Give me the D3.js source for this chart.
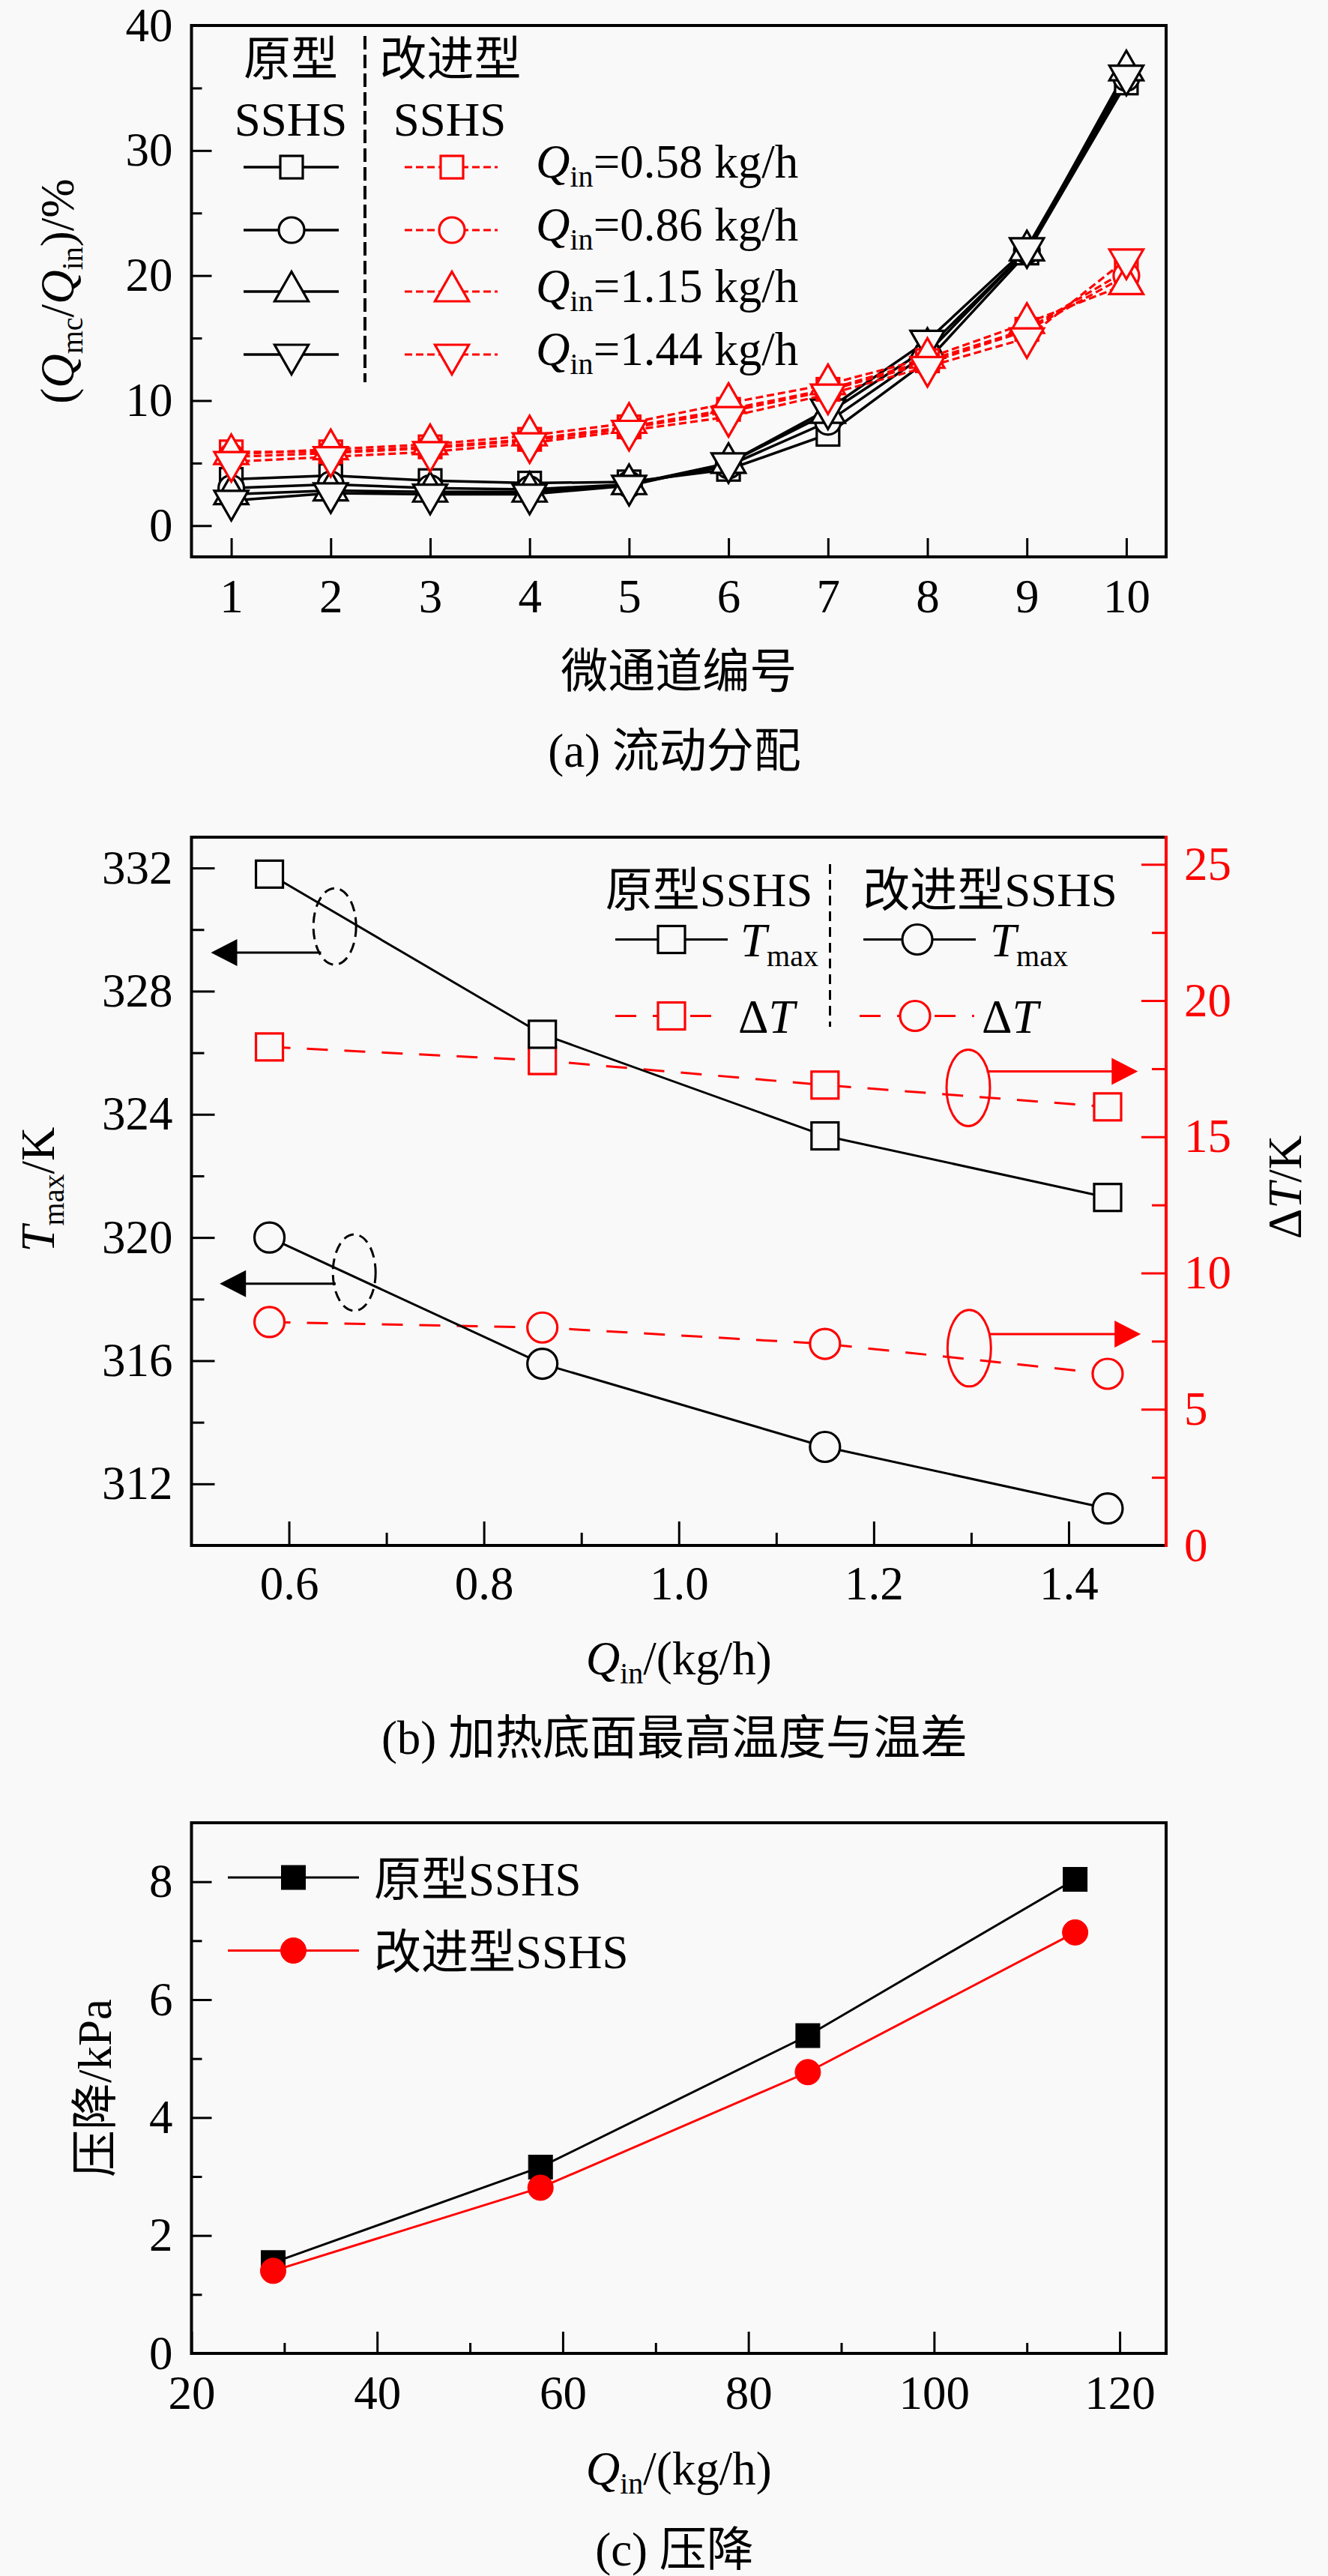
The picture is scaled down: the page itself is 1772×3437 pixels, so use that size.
<!DOCTYPE html>
<html><head><meta charset="utf-8">
<script src="https://cdn.jsdelivr.net/npm/d3@7/dist/d3.min.js"></script>
<style>
html,body{margin:0;padding:0;background:#f9f9f9;}
svg{display:block;}
</style></head>
<body>
<svg id="fig" width="1772" height="3437"></svg>
<script>
// ---------------- DATA ----------------
// (a) flow distribution, Q_mc/Q_in (%) per micro-channel
const channels = [1,2,3,4,5,6,7,8,9,10];
const qinLabels = ["0.58","0.86","1.15","1.44"];
const markerTypes = ["square","circle","up","down"];
const origQ058 = [3.7,4.0,3.6,3.4,3.5,4.5,7.3,13.2,21.8,35.4];
const origQ086 = [3.0,3.3,3.0,2.9,3.3,4.8,8.3,13.8,22.0,35.8];
const origQ115 = [2.5,2.8,2.7,2.7,3.3,5.0,9.0,14.2,22.0,36.4];
const origQ144 = [2.0,2.6,2.5,2.5,3.2,5.0,9.3,14.8,22.2,36.0];
const imprQ058 = [5.9,5.9,6.3,6.9,7.9,9.3,10.9,13.2,15.7,20.4];
const imprQ086 = [5.5,5.8,6.2,6.8,7.8,9.1,10.8,13.0,15.6,20.0];
const imprQ115 = [5.7,6.1,6.5,7.2,8.2,9.8,11.3,13.4,16.2,19.3];
const imprQ144 = [5.1,5.5,5.9,6.6,7.6,8.7,10.5,12.7,15.0,21.3];
const aYMajor = [0,10,20,30,40];
const aYMinor = [5,15,25,35];

// (b) max temperature and temperature difference
const qinB = [0.58,0.86,1.15,1.44];
const tmaxOrig = [331.8,326.6,323.3,321.3];
const tmaxImpr = [320.0,315.9,313.2,311.2];
const dTOrig = [18.3,17.8,16.9,16.1];
const dTImpr = [8.2,8.0,7.4,6.3];
const bXMajor = [0.6,0.8,1.0,1.2,1.4];
const bXMinor = [0.7,0.9,1.1,1.3];
const bYLMajor = [312,316,320,324,328,332];
const bYLMinor = [314,318,322,326,330];
const bYRMajor = [0,5,10,15,20,25];
const bYRMinor = [2.5,7.5,12.5,17.5,22.5];

// (c) pressure drop
const qinC = [28.8,57.6,86.4,115.2];
const dpOrig = [1.54,3.16,5.39,8.04];
const dpImpr = [1.40,2.81,4.77,7.14];
const cXMajor = [20,40,60,80,100,120];
const cXMinor = [30,50,70,90,110];
const cYMajor = [0,2,4,6,8];
const cYMinor = [1,3,5,7];

// ---------------- STYLE ----------------
const BG = "#f9f9f9";
const RED = "#ff0000";
const SERIF = "'Liberation Serif','Times New Roman','Noto Sans CJK SC',serif";
const FS = 63;
const L = 255.5, R = 1556;

const svg = d3.select("#fig");
svg.append("rect").attr("width",1772).attr("height",3437).attr("fill",BG);

function rich(sel, parts, subSize, subShift){
  subSize = subSize || 40; subShift = subShift || 13;
  let shift = 0;
  parts.forEach(p=>{
    const target = p.sub ? subShift : 0;
    const ts = sel.append("tspan").text(p.t);
    if (target !== shift){ ts.attr("dy", target - shift); shift = target; }
    if (p.it) ts.attr("font-style","italic");
    if (p.sub) ts.attr("font-size", subSize);
  });
  return sel;
}

function marker(g, type, x, y, o){
  const s = o.size, stroke = o.stroke, fill = o.fill, sw = o.sw || 3;
  let m;
  if (type === "square"){
    m = g.append("rect").attr("x", x - s/2).attr("y", y - s/2).attr("width", s).attr("height", s);
  } else if (type === "circle"){
    m = g.append("circle").attr("cx", x).attr("cy", y).attr("r", s/2);
  } else if (type === "up"){
    const w = s*0.78, h = s*0.68;
    m = g.append("path").attr("d", `M${x},${y-h*0.67}L${x+w/2},${y+h*0.33}L${x-w/2},${y+h*0.33}Z`);
  } else {
    const w = s*0.78, h = s*0.68;
    m = g.append("path").attr("d", `M${x},${y+h*0.67}L${x+w/2},${y-h*0.33}L${x-w/2},${y-h*0.33}Z`);
  }
  m.attr("fill", fill).attr("stroke", stroke).attr("stroke-width", sw).attr("stroke-linejoin","miter");
  return m;
}

function styleAxis(g, color, sw){
  g.select(".domain").remove();
  g.selectAll(".tick line").attr("stroke", color).attr("stroke-width", sw || 3);
  g.selectAll(".tick text").attr("fill", color).attr("font-family", SERIF).attr("font-size", FS);
  g.attr("font-family", SERIF).attr("font-size", FS);
}

function frame(top, bottom, rightColor){
  const g = svg.append("g");
  g.append("line").attr("x1",L).attr("x2",R).attr("y1",top).attr("y2",top).attr("stroke","#000").attr("stroke-width",4);
  g.append("line").attr("x1",L).attr("x2",R).attr("y1",bottom).attr("y2",bottom).attr("stroke","#000").attr("stroke-width",4);
  g.append("line").attr("x1",L).attr("x2",L).attr("y1",top-2).attr("y2",bottom+2).attr("stroke","#000").attr("stroke-width",4);
  g.append("line").attr("x1",R).attr("x2",R).attr("y1",top-2).attr("y2",bottom+2).attr("stroke",rightColor||"#000").attr("stroke-width",4);
}

// ================= PANEL (a) =================
const aTop = 34, aBot = 743;
const xa = d3.scaleLinear().domain([0.6,10.4]).range([L,R]);
const ya = d3.scaleLinear().domain([-2.5,40]).range([aBot,aTop]);

styleAxis(svg.append("g").attr("transform",`translate(0,${aBot})`)
  .call(d3.axisBottom(xa).tickValues(channels).tickSize(-25).tickPadding(29).tickFormat(d3.format("d"))), "#000");
styleAxis(svg.append("g").attr("transform",`translate(${L},0)`)
  .call(d3.axisLeft(ya).tickValues(aYMajor).tickSize(-27).tickPadding(25).tickFormat(d3.format("d"))), "#000");
styleAxis(svg.append("g").attr("transform",`translate(${L},0)`)
  .call(d3.axisLeft(ya).tickValues(aYMinor).tickSize(-14).tickFormat("")), "#000");

const origSeries = [origQ058, origQ086, origQ115, origQ144];
const imprSeries = [imprQ058, imprQ086, imprQ115, imprQ144];
const mSize = k => k===0 ? 30 : (k===1 ? 34 : 58);
const lineA = d3.line().x((d,i)=>xa(channels[i])).y(d=>ya(d));
const gA = svg.append("g");
origSeries.forEach((s,k)=>{
  gA.append("path").attr("d", lineA(s)).attr("fill","none").attr("stroke","#000").attr("stroke-width",3.5);
});
origSeries.forEach((s,k)=>{
  s.forEach((v,i)=> marker(gA, markerTypes[k], xa(channels[i]), ya(v), {size: mSize(k), stroke:"#000", fill:BG, sw:3.2}));
});
imprSeries.forEach((s,k)=>{
  gA.append("path").attr("d", lineA(s)).attr("fill","none").attr("stroke",RED).attr("stroke-width",3.2).attr("stroke-dasharray","10,5");
});
imprSeries.forEach((s,k)=>{
  s.forEach((v,i)=> marker(gA, markerTypes[k], xa(channels[i]), ya(v), {size: mSize(k), stroke:RED, fill:BG, sw:3.2}));
});
frame(aTop, aBot);

// legend (a)
const legA = svg.append("g").attr("font-family", SERIF).attr("font-size", FS);
legA.append("text").attr("x",388).attr("y",100).attr("text-anchor","middle").text("原型");
legA.append("text").attr("x",388).attr("y",181).attr("text-anchor","middle").text("SSHS");
legA.append("text").attr("x",601).attr("y",100).attr("text-anchor","middle").text("改进型");
legA.append("text").attr("x",600).attr("y",181).attr("text-anchor","middle").text("SSHS");
legA.append("line").attr("x1",487).attr("x2",487).attr("y1",48).attr("y2",510).attr("stroke","#000").attr("stroke-width",4).attr("stroke-dasharray","18,7");
const legRowsA = [223,307,389,473];
qinLabels.forEach((q,k)=>{
  const y = legRowsA[k];
  legA.append("line").attr("x1",325).attr("x2",452).attr("y1",y).attr("y2",y).attr("stroke","#000").attr("stroke-width",3.5);
  marker(legA, markerTypes[k], 389, y, {size: mSize(k), stroke:"#000", fill:BG, sw:3.2});
  legA.append("line").attr("x1",540).attr("x2",664).attr("y1",y).attr("y2",y).attr("stroke",RED).attr("stroke-width",3.2).attr("stroke-dasharray","10,5");
  marker(legA, markerTypes[k], 603, y, {size: mSize(k), stroke:RED, fill:BG, sw:3.2});
  rich(legA.append("text").attr("x",715).attr("y",y+14),
    [{t:"Q",it:true},{t:"in",sub:true},{t:"="+q+" kg/h"}], 40, 12);
});

// titles (a)
rich(svg.append("text").attr("transform",`translate(98,${(aTop+aBot)/2}) rotate(-90)`).attr("text-anchor","middle")
  .attr("font-family",SERIF).attr("font-size",FS),
  [{t:"("},{t:"Q",it:true},{t:"mc",sub:true},{t:"/"},{t:"Q",it:true},{t:"in",sub:true},{t:")/%"}], 40, 12);
svg.append("text").attr("x",(L+R)/2).attr("y",aBot+174).attr("text-anchor","middle").attr("font-family",SERIF).attr("font-size",FS).text("微通道编号");
svg.append("text").attr("x",900).attr("y",aBot+280).attr("text-anchor","middle").attr("font-family",SERIF).attr("font-size",FS).text("(a) 流动分配");

// ================= PANEL (b) =================
const bTop = 1117, bBot = 2062;
const xb = d3.scaleLinear().domain([0.5,1.5]).range([L,R]);
const ybL = d3.scaleLinear().domain([310,333]).range([bBot,bTop]);
const ybR = d3.scaleLinear().domain([0,26]).range([bBot,bTop]);

styleAxis(svg.append("g").attr("transform",`translate(0,${bBot})`)
  .call(d3.axisBottom(xb).tickValues(bXMajor).tickSize(-32).tickPadding(27).tickFormat(d3.format(".1f"))), "#000");
styleAxis(svg.append("g").attr("transform",`translate(0,${bBot})`)
  .call(d3.axisBottom(xb).tickValues(bXMinor).tickSize(-17).tickFormat("")), "#000");
styleAxis(svg.append("g").attr("transform",`translate(${L},0)`)
  .call(d3.axisLeft(ybL).tickValues(bYLMajor).tickSize(-31).tickPadding(25).tickFormat(d3.format("d"))), "#000");
styleAxis(svg.append("g").attr("transform",`translate(${L},0)`)
  .call(d3.axisLeft(ybL).tickValues(bYLMinor).tickSize(-17).tickFormat("")), "#000");
styleAxis(svg.append("g").attr("transform",`translate(${R},0)`)
  .call(d3.axisRight(ybR).tickValues(bYRMajor).tickSize(-33).tickPadding(24).tickFormat(d3.format("d"))), RED);
styleAxis(svg.append("g").attr("transform",`translate(${R},0)`)
  .call(d3.axisRight(ybR).tickValues(bYRMinor).tickSize(-19).tickFormat("")), RED);

const gB = svg.append("g");
const lineBL = d3.line().x((d,i)=>xb(qinB[i])).y(d=>ybL(d));
const lineBR = d3.line().x((d,i)=>xb(qinB[i])).y(d=>ybR(d));
gB.append("path").attr("d",lineBR(dTOrig)).attr("fill","none").attr("stroke",RED).attr("stroke-width",3).attr("stroke-dasharray","28,22");
gB.append("path").attr("d",lineBR(dTImpr)).attr("fill","none").attr("stroke",RED).attr("stroke-width",3).attr("stroke-dasharray","28,22");
gB.append("path").attr("d",lineBL(tmaxOrig)).attr("fill","none").attr("stroke","#000").attr("stroke-width",3);
gB.append("path").attr("d",lineBL(tmaxImpr)).attr("fill","none").attr("stroke","#000").attr("stroke-width",3);
dTOrig.forEach((v,i)=>marker(gB,"square",xb(qinB[i]),ybR(v),{size:36,stroke:RED,fill:BG,sw:3.2}));
dTImpr.forEach((v,i)=>marker(gB,"circle",xb(qinB[i]),ybR(v),{size:40,stroke:RED,fill:BG,sw:3.2}));
tmaxOrig.forEach((v,i)=>marker(gB,"square",xb(qinB[i]),ybL(v),{size:36,stroke:"#000",fill:BG,sw:3.2}));
tmaxImpr.forEach((v,i)=>marker(gB,"circle",xb(qinB[i]),ybL(v),{size:40,stroke:"#000",fill:BG,sw:3.2}));

// axis-pointer annotations (b)
function leftPointer(cx, cy, ay, tailX, tipX){
  gB.append("ellipse").attr("cx",xb(cx)).attr("cy",ybL(cy)).attr("rx",28.5).attr("ry",51)
    .attr("fill","none").attr("stroke","#000").attr("stroke-width",3).attr("stroke-dasharray","14,8");
  const y = ybL(ay), x0 = xb(tailX), x1 = xb(tipX);
  gB.append("line").attr("x1",x0).attr("x2",x1+30).attr("y1",y).attr("y2",y).attr("stroke","#000").attr("stroke-width",3);
  gB.append("path").attr("d",`M${x1},${y}L${x1+35},${y-18}L${x1+35},${y+18}Z`).attr("fill","#000");
}
function rightPointer(cx, cy, ay, tailX, tipX){
  gB.append("ellipse").attr("cx",xb(cx)).attr("cy",ybR(cy)).attr("rx",29).attr("ry",51)
    .attr("fill","none").attr("stroke",RED).attr("stroke-width",3);
  const y = ybR(ay), x0 = xb(tailX), x1 = xb(tipX);
  gB.append("line").attr("x1",x0).attr("x2",x1-30).attr("y1",y).attr("y2",y).attr("stroke",RED).attr("stroke-width",3);
  gB.append("path").attr("d",`M${x1},${y}L${x1-35},${y-18}L${x1-35},${y+18}Z`).attr("fill",RED);
}
leftPointer(0.647, 330.1, 329.25, 0.633, 0.52);
leftPointer(0.667, 318.86, 318.5, 0.648, 0.529);
rightPointer(1.297, 16.8, 17.4, 1.316, 1.471);
rightPointer(1.298, 7.24, 7.76, 1.318, 1.474);

frame(bTop, bBot, RED);

// legend (b)
const legB = svg.append("g").attr("font-family", SERIF).attr("font-size", FS);
legB.append("text").attr("x",946).attr("y",1209).attr("text-anchor","middle").text("原型SSHS");
legB.append("text").attr("x",1321).attr("y",1209).attr("text-anchor","middle").text("改进型SSHS");
legB.append("line").attr("x1",1107.5).attr("x2",1107.5).attr("y1",1153).attr("y2",1370).attr("stroke","#000").attr("stroke-width",3).attr("stroke-dasharray","13,8");
legB.append("line").attr("x1",821).attr("x2",971).attr("y1",1253.5).attr("y2",1253.5).attr("stroke","#000").attr("stroke-width",3);
marker(legB,"square",896,1253.5,{size:36,stroke:"#000",fill:BG,sw:3.2});
rich(legB.append("text").attr("x",988).attr("y",1276),[{t:"T",it:true},{t:"max",sub:true}],40,13);
legB.append("line").attr("x1",1152).attr("x2",1302).attr("y1",1253.5).attr("y2",1253.5).attr("stroke","#000").attr("stroke-width",3);
marker(legB,"circle",1224,1253.5,{size:40,stroke:"#000",fill:BG,sw:3.2});
rich(legB.append("text").attr("x",1321).attr("y",1276),[{t:"T",it:true},{t:"max",sub:true}],40,13);
legB.append("line").attr("x1",821).attr("x2",951).attr("y1",1355.5).attr("y2",1355.5).attr("stroke",RED).attr("stroke-width",3).attr("stroke-dasharray","28,22");
marker(legB,"square",896,1355.5,{size:36,stroke:RED,fill:BG,sw:3.2});
rich(legB.append("text").attr("x",985).attr("y",1378),[{t:"Δ"},{t:"T",it:true}]);
legB.append("line").attr("x1",1147).attr("x2",1300).attr("y1",1355.5).attr("y2",1355.5).attr("stroke",RED).attr("stroke-width",3).attr("stroke-dasharray","28,22");
marker(legB,"circle",1221,1355.5,{size:40,stroke:RED,fill:BG,sw:3.2});
rich(legB.append("text").attr("x",1310).attr("y",1378),[{t:"Δ"},{t:"T",it:true}]);

// titles (b)
rich(svg.append("text").attr("transform",`translate(72,1587) rotate(-90)`).attr("text-anchor","middle")
  .attr("font-family",SERIF).attr("font-size",FS),[{t:"T",it:true},{t:"max",sub:true},{t:"/K"}],40,13);
rich(svg.append("text").attr("transform",`translate(1736,1584) rotate(-90)`).attr("text-anchor","middle")
  .attr("font-family",SERIF).attr("font-size",FS).attr("fill","#000"),[{t:"Δ"},{t:"T",it:true},{t:"/K"}]);
rich(svg.append("text").attr("x",(L+R)/2).attr("y",bBot+172).attr("text-anchor","middle").attr("font-family",SERIF).attr("font-size",FS),
  [{t:"Q",it:true},{t:"in",sub:true},{t:"/(kg/h)"}],40,12);
svg.append("text").attr("x",900).attr("y",bBot+278).attr("text-anchor","middle").attr("font-family",SERIF).attr("font-size",FS).text("(b) 加热底面最高温度与温差");

// ================= PANEL (c) =================
const cTop = 2432, cBot = 3140;
const xc = d3.scaleLinear().domain([20,125]).range([L,R]);
const yc = d3.scaleLinear().domain([0,9]).range([cBot,cTop]);
styleAxis(svg.append("g").attr("transform",`translate(0,${cBot})`)
  .call(d3.axisBottom(xc).tickValues(cXMajor).tickSize(-29).tickPadding(29).tickFormat(d3.format("d"))), "#000");
styleAxis(svg.append("g").attr("transform",`translate(0,${cBot})`)
  .call(d3.axisBottom(xc).tickValues(cXMinor).tickSize(-14).tickFormat("")), "#000");
styleAxis(svg.append("g").attr("transform",`translate(${L},0)`)
  .call(d3.axisLeft(yc).tickValues(cYMajor).tickSize(-27).tickPadding(25).tickFormat(d3.format("d"))), "#000");
styleAxis(svg.append("g").attr("transform",`translate(${L},0)`)
  .call(d3.axisLeft(yc).tickValues(cYMinor).tickSize(-14).tickFormat("")), "#000");

const gC = svg.append("g");
const lineC = d3.line().x((d,i)=>xc(qinC[i])).y(d=>yc(d));
gC.append("path").attr("d",lineC(dpOrig)).attr("fill","none").attr("stroke","#000").attr("stroke-width",3);
gC.append("path").attr("d",lineC(dpImpr)).attr("fill","none").attr("stroke",RED).attr("stroke-width",3);
dpOrig.forEach((v,i)=>marker(gC,"square",xc(qinC[i]),yc(v),{size:32,stroke:"#000",fill:"#000",sw:1}));
dpImpr.forEach((v,i)=>marker(gC,"circle",xc(qinC[i]),yc(v),{size:34,stroke:RED,fill:RED,sw:1}));
frame(cTop, cBot);

// legend (c)
const legC = svg.append("g").attr("font-family", SERIF).attr("font-size", FS);
legC.append("line").attr("x1",304).attr("x2",479).attr("y1",2505).attr("y2",2505).attr("stroke","#000").attr("stroke-width",3);
marker(legC,"square",391.5,2505,{size:32,stroke:"#000",fill:"#000",sw:1});
legC.append("text").attr("x",499).attr("y",2529).text("原型SSHS");
legC.append("line").attr("x1",304).attr("x2",479).attr("y1",2602.5).attr("y2",2602.5).attr("stroke",RED).attr("stroke-width",3);
marker(legC,"circle",391.5,2602.5,{size:34,stroke:RED,fill:RED,sw:1});
legC.append("text").attr("x",499).attr("y",2626).text("改进型SSHS");

// titles (c)
svg.append("text").attr("transform",`translate(148,${(cTop+cBot)/2}) rotate(-90)`).attr("text-anchor","middle")
  .attr("font-family",SERIF).attr("font-size",FS).text("压降/kPa");
rich(svg.append("text").attr("x",(L+R)/2).attr("y",cBot+175).attr("text-anchor","middle").attr("font-family",SERIF).attr("font-size",FS),
  [{t:"Q",it:true},{t:"in",sub:true},{t:"/(kg/h)"}],40,12);
svg.append("text").attr("x",900).attr("y",cBot+283).attr("text-anchor","middle").attr("font-family",SERIF).attr("font-size",FS).text("(c) 压降");
</script>
</body></html>
